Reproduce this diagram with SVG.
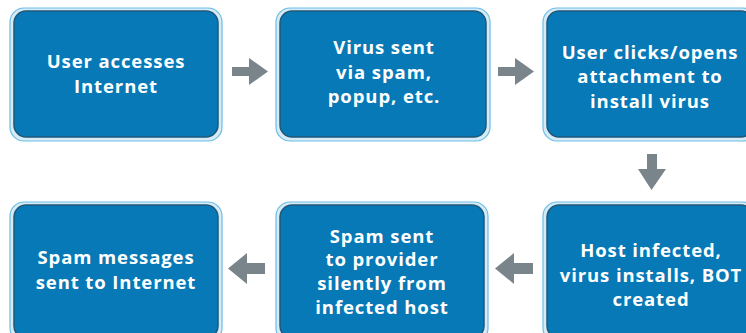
<svg xmlns="http://www.w3.org/2000/svg" width="746" height="333" viewBox="0 0 746 333">
<defs>
<style>
.outer{fill:#d6ebf6;stroke:#6cbde6;stroke-width:1.2}
.inner{fill:#0679b6;stroke:#1f5878;stroke-width:1.5}
.t{font-family:"Open Sans","Liberation Sans",sans-serif;font-weight:700;font-size:18.5px;letter-spacing:0.9px;fill:#ffffff;text-anchor:middle}
.arr{fill:#7a858b}
</style>
</defs>
<rect width="746" height="333" fill="#ffffff"/>
<g id="n1">
<rect class="outer" x="10" y="8" width="212" height="133" rx="14"/>
<rect class="inner" x="14" y="11" width="204" height="126" rx="12"/>
<text class="t" x="116" y="68">User accesses</text>
<text class="t" x="116" y="93">Internet</text>
</g>
<g id="n2">
<rect class="outer" x="276" y="8" width="214" height="133" rx="14"/>
<rect class="inner" x="280" y="11" width="206" height="126" rx="12"/>
<text class="t" x="384" y="54">Virus sent</text>
<text class="t" x="384" y="79">via spam,</text>
<text class="t" x="384" y="103">popup, etc.</text>
</g>
<g id="n3">
<rect class="outer" x="543" y="8" width="214" height="133" rx="14"/>
<rect class="inner" x="547" y="11" width="206" height="126" rx="12"/>
<text class="t" x="650" y="59">User clicks/opens</text>
<text class="t" x="650" y="83">attachment to</text>
<text class="t" x="650" y="108">install virus</text>
</g>
<g id="n4">
<rect class="outer" x="10" y="202" width="212" height="140" rx="14"/>
<rect class="inner" x="14" y="205" width="204" height="133" rx="12"/>
<text class="t" x="116" y="264">Spam messages</text>
<text class="t" x="116" y="289">sent to Internet</text>
</g>
<g id="n5">
<rect class="outer" x="276" y="202" width="212" height="140" rx="14"/>
<rect class="inner" x="280" y="205" width="204" height="133" rx="12"/>
<text class="t" x="382" y="243">Spam sent</text>
<text class="t" x="382" y="266">to provider</text>
<text class="t" x="382" y="290">silently from</text>
<text class="t" x="382" y="314">infected host</text>
</g>
<g id="n6">
<rect class="outer" x="543" y="202" width="214" height="140" rx="14"/>
<rect class="inner" x="547" y="205" width="206" height="133" rx="12"/>
<text class="t" x="651" y="257">Host infected,</text>
<text class="t" x="651" y="282">virus installs, BOT</text>
<text class="t" x="651" y="306">created</text>
</g>
<g id="connectors">
<polygon class="arr" points="232,67 249,67 249,58 268,71.5 249,85 249,76 232,76"/>
<polygon class="arr" points="498,67 515,67 515,58 534,71.5 515,85 515,76 498,76"/>
<polygon class="arr" points="647,154 657,154 657,169 666,169 651.5,190 638,169 647,169"/>
<polygon class="arr" points="533,263 514,263 514,253 495,268.5 514,284 514,274 533,274"/>
<polygon class="arr" points="265,263 247,263 247,253 228,268.5 247,284 247,274 265,274"/>
</g>
</svg>
